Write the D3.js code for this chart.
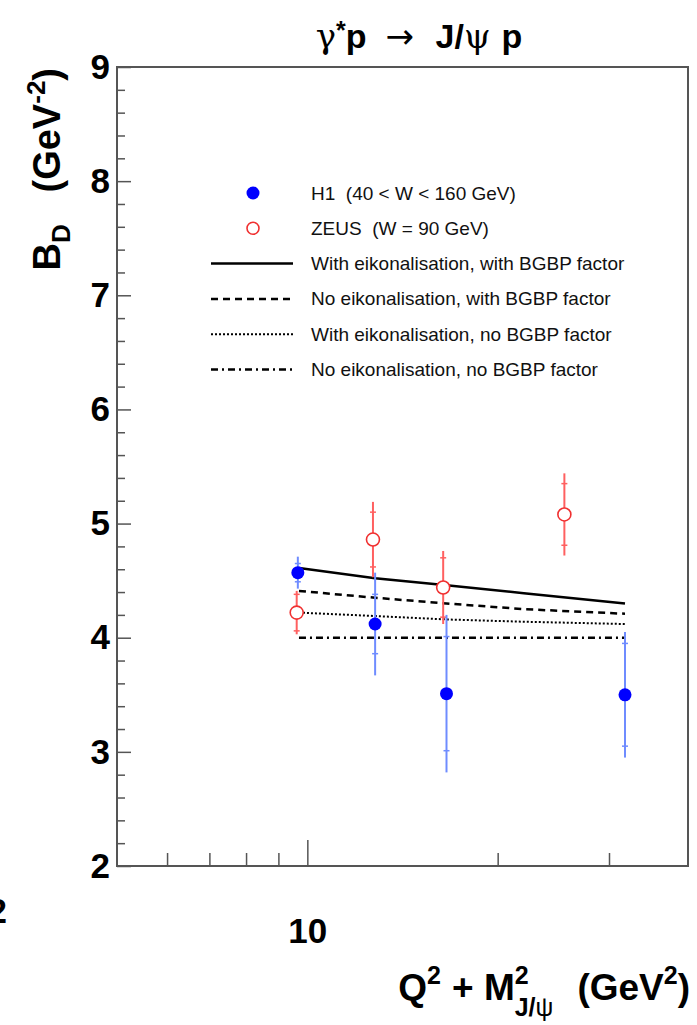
<!DOCTYPE html>
<html>
<head>
<meta charset="utf-8">
<script src="https://d3js.org/d3.v7.min.js"></script>
<style>
  body { margin: 0; background: #fff; }
  text { font-family: "Liberation Sans", Arial, Helvetica, sans-serif; white-space: pre; }
</style>
</head>
<body>
<div id="chart"></div>
<script>
// data
var h1X = [9.66, 12.8, 16.6, 31.8];
var h1Y = [4.57, 4.12, 3.51, 3.50];
var h1Stat = [0.08, 0.26, 0.50, 0.45];
var h1Tot = [0.14, 0.45, 0.69, 0.55];

var zeusX = [9.62, 12.7, 16.4, 25.5];
var zeusY = [4.22, 4.86, 4.44, 5.08];
var zeusStat = [0.16, 0.24, 0.26, 0.27];
var zeusTot = [0.19, 0.33, 0.32, 0.36];

var modelX = [9.7, 12.8, 16.6, 22, 31.8];
var eikBgbp = [4.61, 4.52, 4.46, 4.39, 4.30];
var noEikBgbp = [4.41, 4.35, 4.30, 4.25, 4.21];
var eikNoBgbp = [4.22, 4.19, 4.16, 4.14, 4.12];
var noEikNoBgbp = [4.00, 4.00, 4.00, 4.00, 4.00];

var legendLabels = ["H1  (40 < W < 160 GeV)", "ZEUS  (W = 90 GeV)",
  "With eikonalisation, with BGBP factor", "No eikonalisation, with BGBP factor",
  "With eikonalisation, no BGBP factor", "No eikonalisation, no BGBP factor"];

var yMajor = [2, 3, 4, 5, 6, 7, 8, 9];
var xMajor = [10];
var xMinor = [6, 7, 8, 9, 20, 30];

var width = 697, height = 1025;
var padL = 117, padR = 688, padT = 67, padB = 866;

var svg = d3.select("#chart").append("svg")
    .attr("width", width)
    .attr("height", height);

var x = d3.scaleLog().domain([5, 40]).range([padL, padR]);
var y = d3.scaleLinear().domain([2, 9]).range([padB, padT]);

function boldLabels(g) {
  g.selectAll("line").attr("stroke", "#555").attr("stroke-width", 1.5);
  g.selectAll("text").attr("font-size", 35).attr("font-weight", "bold")
    .attr("fill", "#000").attr("font-family", "Liberation Sans, Arial, sans-serif");
}

// minor y ticks
var yMinor = d3.range(2, 9.001, 0.2).filter(function(v) { return Math.abs(v - Math.round(v)) > 0.01; });
svg.append("g")
    .attr("transform", "translate(" + padL + ",0)")
    .call(d3.axisLeft(y).tickValues(yMinor).tickSize(-8).tickFormat(""))
    .call(function(g) { g.select(".domain").remove(); })
    .selectAll("line").attr("stroke", "#555").attr("stroke-width", 1.5);

svg.append("g")
    .attr("transform", "translate(" + padL + ",0)")
    .call(d3.axisLeft(y).tickValues(yMajor).tickSize(-14).tickPadding(7).tickFormat(d3.format("d")))
    .call(function(g) { g.select(".domain").remove(); })
    .call(boldLabels);

// x ticks
svg.append("g")
    .attr("transform", "translate(0," + padB + ")")
    .call(d3.axisBottom(x).tickValues(xMinor).tickSize(-13).tickFormat(""))
    .call(function(g) { g.select(".domain").remove(); })
    .selectAll("line").attr("stroke", "#555").attr("stroke-width", 1.5);

svg.append("g")
    .attr("transform", "translate(0," + padB + ")")
    .call(d3.axisBottom(x).tickValues(xMajor).tickSize(-26).tickPadding(52).tickFormat(d3.format("d")))
    .call(function(g) { g.select(".domain").remove(); })
    .call(boldLabels);

// frame
svg.append("rect")
    .attr("x", padL).attr("y", padT)
    .attr("width", padR - padL).attr("height", padB - padT)
    .attr("fill", "none").attr("stroke", "#555").attr("stroke-width", 2);

// model curves
var line = d3.line()
    .x(function(d) { return x(d[0]); })
    .y(function(d) { return y(d[1]); });

var curves = [
  { vals: eikBgbp, dash: null, w: 2.5 },
  { vals: noEikBgbp, dash: "7,5", w: 2.5 },
  { vals: eikNoBgbp, dash: "2,2", w: 2 },
  { vals: noEikNoBgbp, dash: "7,4,2,4", w: 2.5 }
];

curves.forEach(function(c) {
  svg.append("path")
      .datum(modelX.map(function(v, i) { return [v, c.vals[i]]; }))
      .attr("d", line)
      .attr("fill", "none")
      .attr("stroke", "#000")
      .attr("stroke-width", c.w)
      .attr("stroke-dasharray", c.dash);
});

// error bars + markers
function drawSeries(xs, ys, stat, tot, barColor, filled, markColor) {
  var g = svg.append("g");
  var pts = xs.map(function(v, i) { return { x: v, y: ys[i], s: stat[i], t: tot[i] }; });
  g.selectAll(".bar").data(pts).enter().append("line")
      .attr("x1", function(d) { return x(d.x); })
      .attr("x2", function(d) { return x(d.x); })
      .attr("y1", function(d) { return y(d.y + d.t); })
      .attr("y2", function(d) { return y(d.y - d.t); })
      .attr("stroke", barColor).attr("stroke-width", 2);
  [1, -1].forEach(function(sgn) {
    g.selectAll(".tick" + sgn).data(pts).enter().append("line")
        .attr("x1", function(d) { return x(d.x) - 3; })
        .attr("x2", function(d) { return x(d.x) + 3; })
        .attr("y1", function(d) { return y(d.y + sgn * d.s); })
        .attr("y2", function(d) { return y(d.y + sgn * d.s); })
        .attr("stroke", barColor).attr("stroke-width", 1.5);
  });
  g.selectAll("circle").data(pts).enter().append("circle")
      .attr("cx", function(d) { return x(d.x); })
      .attr("cy", function(d) { return y(d.y); })
      .attr("r", 6.5)
      .attr("fill", filled ? markColor : "#fff")
      .attr("stroke", markColor)
      .attr("stroke-width", filled ? 0 : 1.6);
}

drawSeries(zeusX, zeusY, zeusStat, zeusTot, "#ff6060", false, "#f03030");
drawSeries(h1X, h1Y, h1Stat, h1Tot, "#6f8cff", true, "#0000ff");

// legend
var legY0 = 193, legStep = 35.3, legTextX = 311;
var leg = svg.append("g");
legendLabels.forEach(function(lab, i) {
  var cy = legY0 + i * legStep;
  leg.append("text")
      .attr("x", legTextX).attr("y", cy + 6.5)
      .attr("font-size", 19)
      .attr("fill", "#111")
      .text(lab);
  if (i === 0) {
    leg.append("circle").attr("cx", 253).attr("cy", cy).attr("r", 6.5).attr("fill", "#0000ff");
  } else if (i === 1) {
    leg.append("circle").attr("cx", 253).attr("cy", cy).attr("r", 6).attr("fill", "#fff")
        .attr("stroke", "#f03030").attr("stroke-width", 1.6);
  } else {
    var c = curves[i - 2];
    leg.append("line")
        .attr("x1", 211).attr("x2", 293).attr("y1", cy).attr("y2", cy)
        .attr("stroke", "#000").attr("stroke-width", c.w)
        .attr("stroke-dasharray", c.dash);
  }
});

// title
var title = svg.append("text")
    .attr("x", 419).attr("y", 48)
    .attr("text-anchor", "middle")
    .attr("font-size", 34);
title.append("tspan").attr("font-family", "DejaVu Serif, serif").text("γ");
title.append("tspan").attr("font-weight", "bold").attr("dy", -9).attr("font-size", 25).text("*");
title.append("tspan").attr("font-weight", "bold").attr("dy", 9).text("p  ");
title.append("tspan").attr("font-family", "DejaVu Sans, sans-serif").text("\u2192  ");
title.append("tspan").attr("font-weight", "bold").text("J/");
title.append("tspan").attr("font-family", "DejaVu Serif, serif").text("ψ ");
title.append("tspan").attr("font-weight", "bold").text("p");

// y axis title
var yt = svg.append("text")
    .attr("transform", "translate(60,68) rotate(-90)")
    .attr("text-anchor", "end")
    .attr("font-size", 38)
    .attr("font-weight", "bold");
yt.append("tspan").text("B");
yt.append("tspan").attr("font-size", 26).attr("dy", 10).text("D");
yt.append("tspan").attr("dy", -10).text("   (GeV");
yt.append("tspan").attr("font-size", 26).attr("dy", -15).text("-2");
yt.append("tspan").attr("dy", 15).text(")");

// x axis title, built piece by piece so the stacked sup/sub line up
var xt = svg.append("g").attr("font-weight", "bold");
var cx = 0, base = 1000;
function piece(str, size, dy, fam) {
  var t = xt.append("text").attr("x", cx).attr("y", base + dy)
      .attr("font-size", size).text(str);
  if (fam) t.attr("font-family", fam).attr("font-weight", "normal");
  return t.node().getComputedTextLength();
}
cx += piece("Q", 37, 0);
var w = piece("2", 25, -16);
cx += w + 11;
cx += piece("+ M", 37, 0);
var w2 = piece("2", 25, -16);
var sx = cx;
var wJ = piece("J/", 25, 16);
cx += wJ;
var wPsi = piece("ψ", 25, 16, "DejaVu Serif, serif");
cx = sx + Math.max(w2, wJ + wPsi) + 24;
cx += piece("(GeV", 37, 0);
cx += piece("2", 25, -16);
cx += piece(")", 37, 0);
xt.attr("transform", "translate(" + (690 - cx) + ",0)");

// cut-off label from the neighbouring panel
svg.append("text").attr("x", 7).attr("y", 923).attr("text-anchor", "end")
    .attr("font-size", 35).attr("font-weight", "bold").text("2");
</script>
</body>
</html>
